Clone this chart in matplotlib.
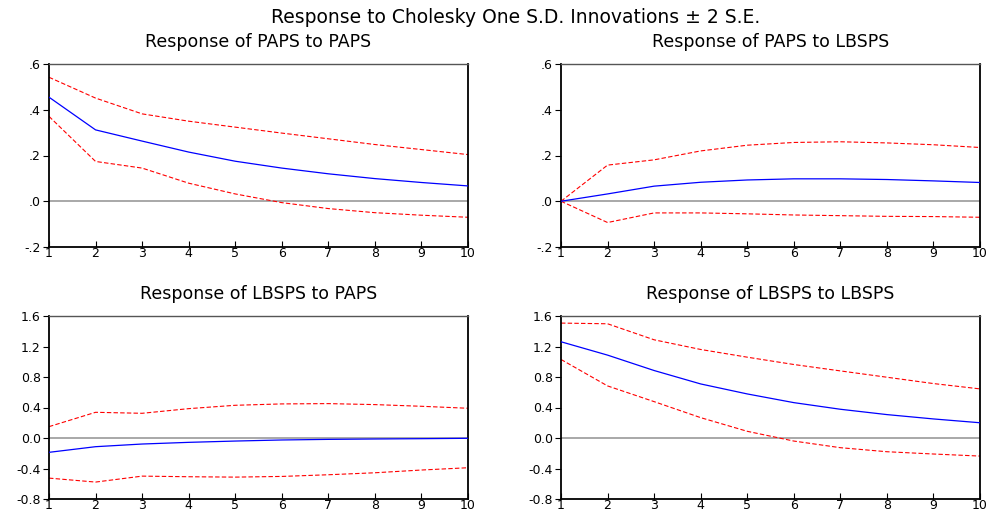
import matplotlib
matplotlib.use("Agg")
import matplotlib.pyplot as plt

plt.rcParams['font.family'] = ['DejaVu Sans']

periodos = list(range(1, 11))

# Response of PAPS to PAPS
paps_paps = [0.455, 0.312, 0.263, 0.215, 0.175, 0.145, 0.120, 0.099, 0.082, 0.067]
paps_paps_sup = [0.542, 0.451, 0.382, 0.350, 0.324, 0.298, 0.273, 0.248, 0.226, 0.204]
paps_paps_inf = [0.371, 0.174, 0.145, 0.079, 0.032, -0.006, -0.032, -0.050, -0.061, -0.070]

# Response of PAPS to LBSPS
paps_lbsps = [0.0, 0.032, 0.066, 0.083, 0.093, 0.098, 0.098, 0.095, 0.089, 0.082]
paps_lbsps_sup = [0.0, 0.158, 0.181, 0.220, 0.245, 0.257, 0.260, 0.255, 0.247, 0.235]
paps_lbsps_inf = [0.0, -0.093, -0.051, -0.051, -0.055, -0.060, -0.063, -0.066, -0.067, -0.070]

# Response of LBSPS to PAPS
lbsps_paps = [-0.188, -0.114, -0.079, -0.057, -0.040, -0.026, -0.018, -0.013, -0.009, -0.004]
lbsps_paps_sup = [0.149, 0.337, 0.324, 0.385, 0.429, 0.447, 0.451, 0.438, 0.416, 0.390]
lbsps_paps_inf = [-0.526, -0.578, -0.500, -0.508, -0.513, -0.504, -0.482, -0.456, -0.420, -0.390]

# Response of LBSPS to LBSPS
lbsps_lbsps = [1.262, 1.087, 0.885, 0.709, 0.578, 0.464, 0.377, 0.307, 0.250, 0.200]
lbsps_lbsps_sup = [1.507, 1.498, 1.288, 1.161, 1.060, 0.964, 0.880, 0.797, 0.714, 0.644]
lbsps_lbsps_inf = [1.030, 0.683, 0.477, 0.267, 0.088, -0.040, -0.127, -0.180, -0.210, -0.237]

titulos = ["Response of PAPS to PAPS", "Response of PAPS to LBSPS",
           "Response of LBSPS to PAPS", "Response of LBSPS to LBSPS"]
series = [(paps_paps, paps_paps_sup, paps_paps_inf),
          (paps_lbsps, paps_lbsps_sup, paps_lbsps_inf),
          (lbsps_paps, lbsps_paps_sup, lbsps_paps_inf),
          (lbsps_lbsps, lbsps_lbsps_sup, lbsps_lbsps_inf)]

ticks_top = [-0.2, 0.0, 0.2, 0.4, 0.6]
labels_top = ["-.2", ".0", ".2", ".4", ".6"]
ticks_bot = [-0.8, -0.4, 0.0, 0.4, 0.8, 1.2, 1.6]
labels_bot = ["-0.8", "-0.4", "0.0", "0.4", "0.8", "1.2", "1.6"]

fig = plt.figure(figsize=(9.9, 5.16), dpi=100)
W, H = 990, 516
posicoes = [(49, 64), (561, 64), (49, 316), (561, 316)]

for i, (px, py) in enumerate(posicoes):
    ax = fig.add_axes([px / W, 1 - (py + 183) / H, 419 / W, 183 / H])
    resp, sup, inf = series[i]
    ax.axhline(0, color='#999999', lw=1.2, zorder=1)
    ax.plot(periodos, resp, color='blue', lw=0.9, zorder=3)
    ax.plot(periodos, sup, color='red', lw=0.8, ls=(0, (4, 2)), zorder=2)
    ax.plot(periodos, inf, color='red', lw=0.8, ls=(0, (4, 2)), zorder=2)
    ax.set_xlim(1, 10)
    ax.set_xticks(periodos)
    if i < 2:
        ax.set_ylim(-0.2, 0.6)
        ax.set_yticks(ticks_top)
        ax.set_yticklabels(labels_top)
    else:
        ax.set_ylim(-0.8, 1.6)
        ax.set_yticks(ticks_bot)
        ax.set_yticklabels(labels_bot)
    ax.tick_params(axis='y', direction='out', length=4, width=0.8, labelsize=9, pad=2)
    ax.tick_params(axis='x', direction='in', length=4, width=0.8, labelsize=9, pad=0)
    for lado in ['left', 'bottom', 'right']:
        ax.spines[lado].set_linewidth(1.3)
        ax.spines[lado].set_color('black')
    ax.spines['top'].set_linewidth(1.0)
    ax.spines['top'].set_color('#555555')
    fig.text((px + 209.5) / W, 1 - (py - 22) / H, titulos[i], ha='center', va='center', fontsize=12.5)

fig.text(516 / W, 1 - 17 / H, "Response to Cholesky One S.D. Innovations \u00b1 2 S.E.",
         ha='center', va='center', fontsize=13.5)

fig.savefig("out.png", dpi=100)
